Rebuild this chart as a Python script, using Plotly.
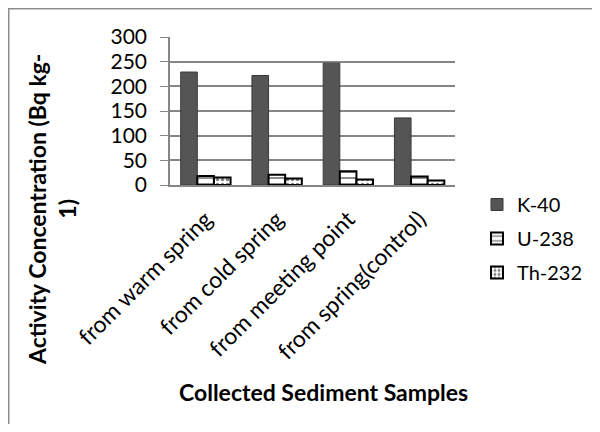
import plotly.graph_objects as go

categories = ["from warm spring", "from cold spring", "from meeting point", "from spring(control)"]
k40 = [229, 222, 247, 136]
u238 = [18, 21, 28, 17]
th232 = [15, 13, 11, 9]
y_ticks = [0, 50, 100, 150, 200, 250, 300]

FONT = "Lato"
OFF = 8  # browser body margin
W, H = 600 - 2 * OFF, 432 - 2 * OFF
# plot area in screen pixels
SL, SR, ST, SB = 170, 455, 37, 185
L, T = SL - OFF, ST - OFF
R, B = W - (SR - OFF), H - (SB - OFF)
pw, ph = W - L - R, H - T - B

def px_x(p):  # screen px -> paper
    return (p - OFF - L) / pw

def px_y(p):
    return (H - B - (p - OFF)) / ph

fig = go.Figure()
fig.add_trace(go.Bar(
    name="K-40", x=categories, y=k40, legendgroup="a",
    marker=dict(color="#555555", line=dict(color="#3a3a3a", width=1)),
))
fig.add_trace(go.Bar(
    name="U-238", x=categories, y=u238, legendgroup="b",
    marker=dict(color="white", line=dict(color="black", width=2),
                pattern=dict(shape="-", fgcolor="black", bgcolor="white", size=6, solidity=0.3)),
))
fig.add_trace(go.Bar(
    name="Th-232", x=categories, y=th232, legendgroup="c",
    marker=dict(color="white", line=dict(color="black", width=2),
                pattern=dict(shape=".", fgcolor="black", bgcolor="white", size=5, solidity=0.4)),
))

fig.update_layout(
    width=W, height=H,
    margin=dict(l=L, r=R, t=T, b=B, autoexpand=False),
    paper_bgcolor="white", plot_bgcolor="white",
    barmode="group", bargap=0.3, bargroupgap=0,
    font=dict(family=FONT, size=21, color="black"),
    showlegend=True,
    legend=dict(x=px_x(477), y=px_y(185), xanchor="left", yanchor="top",
                font=dict(size=20), tracegroupgap=5, itemwidth=30,
                bgcolor="rgba(0,0,0,0)"),
    xaxis=dict(showline=True, linecolor="#868686", linewidth=1.5, tickangle=-45,
               tickfont=dict(size=23), ticks="", showgrid=False,
               ticklabelstandoff=10),
    yaxis=dict(range=[0, 300], tickvals=y_ticks, showline=True, linecolor="#868686",
               linewidth=1.5, showgrid=True, gridcolor="#868686", gridwidth=1.5,
               ticks="outside", ticklen=8, tickcolor="#868686", tickfont=dict(size=21),
               zeroline=False, ticklabelstandoff=9),
    shapes=[dict(type="rect", xref="paper", yref="paper",
                 x0=px_x(8.75), x1=px_x(640), y0=px_y(480), y1=px_y(8.75),
                 line=dict(color="#8c8c8c", width=1.5), fillcolor="rgba(0,0,0,0)", layer="below")],
    annotations=[
        dict(text="<b>Collected Sediment Samples</b>", xref="paper", yref="paper",
             x=px_x(323), y=px_y(392), showarrow=False, xanchor="center", yanchor="middle",
             font=dict(size=23)),
        dict(text="<b>Activity Concentration (Bq kg-<br>1)</b>", xref="paper", yref="paper",
             x=px_x(52), y=px_y(210), showarrow=False, xanchor="center", yanchor="middle",
             textangle=-90, font=dict(size=23)),
    ],
)

fig.write_html("out.html")
